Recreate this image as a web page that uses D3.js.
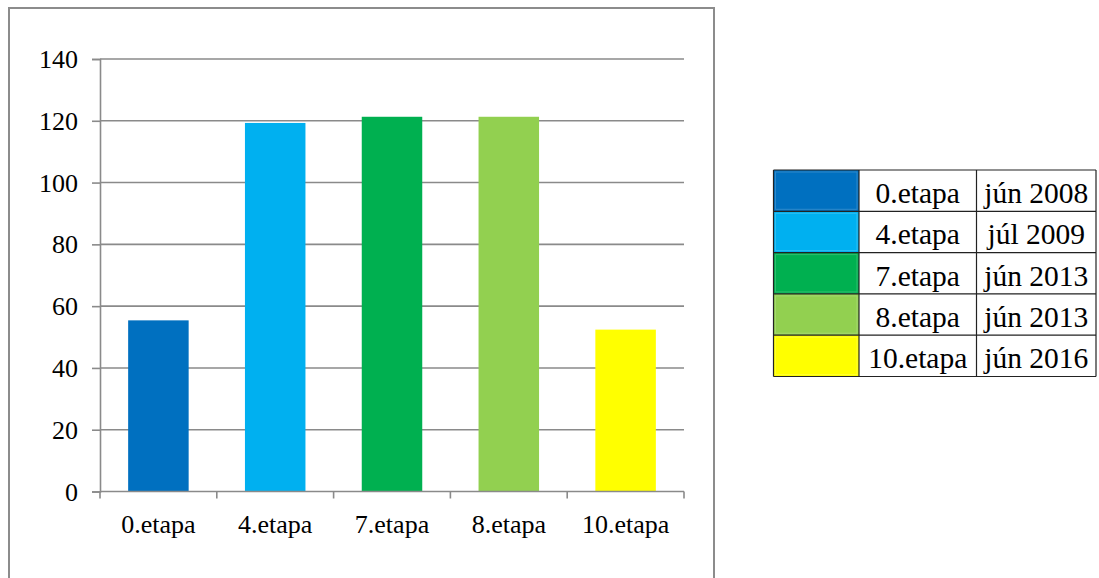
<!DOCTYPE html>
<html>
<head>
<meta charset="utf-8">
<script src="https://cdn.jsdelivr.net/npm/d3@7"></script>
<style>
  html, body { margin: 0; padding: 0; background: #fff; }
  svg { display: block; }
  text { font-family: "Liberation Serif", "Times New Roman", "DejaVu Serif", serif; fill: #000; }
</style>
</head>
<body>
<svg id="chart" width="1099" height="578"></svg>
<script>
const categories = ["0.etapa", "4.etapa", "7.etapa", "8.etapa", "10.etapa"];
const values = [55.4, 119.3, 121.3, 121.3, 52.4];
const dates = ["jún 2008", "júl 2009", "jún 2013", "jún 2013", "jún 2016"];
const colors = ["#0070C0", "#00B0F0", "#00B050", "#92D050", "#FFFF00"];
const yTicks = [0, 20, 40, 60, 80, 100, 120, 140];

const svg = d3.select("#chart");
const gridColor = "#8a8a8a";

// outer chart frame
svg.append("rect")
  .attr("x", 9).attr("y", 8)
  .attr("width", 705).attr("height", 600)
  .attr("fill", "none").attr("stroke", "#8c8c8c").attr("stroke-width", 2);

const plot = { left: 100, right: 684, top: 59, bottom: 491.5 };

const x = d3.scaleBand().domain(categories)
  .range([plot.left, plot.right]).paddingInner(0.482).paddingOuter(0.241);
const y = d3.scaleLinear().domain([0, 140]).range([plot.bottom, plot.top]);

// gridlines
svg.append("g").selectAll("line").data(yTicks.filter(d => d > 0)).join("line")
  .attr("x1", plot.left).attr("x2", plot.right)
  .attr("y1", d => y(d)).attr("y2", d => y(d))
  .attr("stroke", gridColor).attr("stroke-width", 1.6);

// bars
svg.append("g").selectAll("rect").data(values).join("rect")
  .attr("x", (d, i) => x(categories[i]))
  .attr("width", x.bandwidth())
  .attr("y", d => y(d))
  .attr("height", d => y(0) - y(d))
  .attr("fill", (d, i) => colors[i]);

// y axis
const yAxis = d3.axisLeft(y).tickValues(yTicks).tickSize(8).tickPadding(14).tickFormat(d3.format("d"));
const gy = svg.append("g").attr("transform", `translate(${plot.left},0)`).call(yAxis);
gy.attr("font-family", null);
gy.select(".domain").attr("stroke", gridColor).attr("stroke-width", 1.6);
gy.selectAll(".tick line").attr("stroke", gridColor).attr("stroke-width", 1.6);
gy.selectAll(".tick text").attr("font-size", 26).attr("dy", "0.33em");

// x axis
const gx = svg.append("g").attr("transform", `translate(0,${plot.bottom})`);
gx.append("line").attr("x1", plot.left).attr("x2", plot.right).attr("y1", 0).attr("y2", 0)
  .attr("stroke", gridColor).attr("stroke-width", 1.6);
const step = x.step();
const boundaries = d3.range(categories.length + 1).map(i => plot.left + i * step);
gx.selectAll("line.tk").data(boundaries).join("line").attr("class", "tk")
  .attr("x1", d => d).attr("x2", d => d).attr("y1", 0).attr("y2", 7)
  .attr("stroke", gridColor).attr("stroke-width", 1.6);
gx.selectAll("text").data(categories).join("text")
  .attr("x", d => x(d) + x.bandwidth() / 2)
  .attr("y", 41.5)
  .attr("text-anchor", "middle")
  .attr("font-size", 26)
  .text(d => d);

// legend table
const leg = { left: 773.5, top: 170, right: 1096, bottom: 376.5, c1: 859, c2: 976.5 };
const ry = d3.scaleBand().domain(categories).range([leg.top, leg.bottom]);
const lg = svg.append("g");
lg.selectAll("rect.sw").data(categories).join("rect").attr("class", "sw")
  .attr("x", leg.left).attr("y", d => ry(d))
  .attr("width", leg.c1 - leg.left).attr("height", ry.bandwidth())
  .attr("fill", (d, i) => colors[i]);
lg.selectAll("rect.swi").data(categories).join("rect").attr("class", "swi")
  .attr("x", leg.left + 2).attr("y", d => ry(d) + 2)
  .attr("width", leg.c1 - leg.left - 4).attr("height", ry.bandwidth() - 4)
  .attr("fill", "none").attr("stroke", "rgba(255,255,255,0.18)").attr("stroke-width", 1);
lg.selectAll("line.row").data(d3.range(categories.length + 1)).join("line").attr("class", "row")
  .attr("x1", leg.left).attr("x2", leg.right)
  .attr("y1", i => leg.top + i * ry.step()).attr("y2", i => leg.top + i * ry.step())
  .attr("stroke", "#222").attr("stroke-width", 1.2);
lg.selectAll("line.col").data([leg.left, leg.c1, leg.c2, leg.right]).join("line").attr("class", "col")
  .attr("x1", d => d).attr("x2", d => d).attr("y1", leg.top).attr("y2", leg.bottom)
  .attr("stroke", "#222").attr("stroke-width", 1.2);
lg.selectAll("text.nm").data(categories).join("text").attr("class", "nm")
  .attr("x", (leg.c1 + leg.c2) / 2).attr("y", d => ry(d) + 33)
  .attr("text-anchor", "middle").attr("font-size", 29.5).text(d => d);
lg.selectAll("text.dt").data(dates).join("text").attr("class", "dt")
  .attr("x", (leg.c2 + leg.right) / 2).attr("y", (d, i) => ry(categories[i]) + 33)
  .attr("text-anchor", "middle").attr("font-size", 29.5).text(d => d);
</script>
</body>
</html>
